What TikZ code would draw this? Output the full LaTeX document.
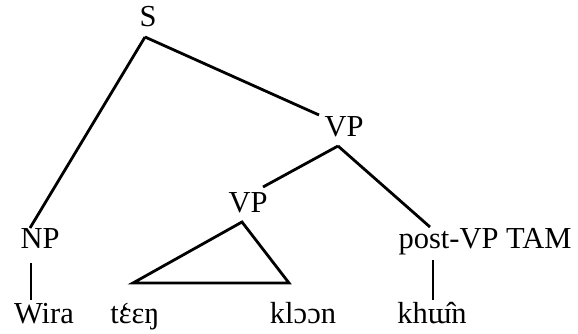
\documentclass[tikz,border=0pt]{standalone}
\usepackage{fontspec}
\setmainfont{Liberation Serif}
\newcommand{\gravee}{\ooalign{ɛ\cr\hfil\char"60\hfil\cr}}
\begin{document}
\begin{tikzpicture}[x=1pt,y=-1pt,line width=2.8pt,
  lbl/.style={anchor=base,inner sep=0pt,font=\fontsize{30.5}{36}\selectfont}]
\useasboundingbox (0,0) rectangle (578,334);
% 节点
\node[lbl] (S) at (148,27) {S};
\node[lbl] (VPa) at (344,137) {VP};
\node[lbl] (VPb) at (248,212) {VP};
\node[lbl] (NP) at (40,248) {NP};
\node[lbl] (TAM) at (485,248) {post-VP TAM};
% 词
\node[lbl] (wira) at (44,323) {Wira};
\node[lbl] (teen) at (135,323) {t\gravee ɛŋ};
\node[lbl] (kloon) at (303,323) {klɔɔn};
\node[lbl] (khun) at (432,323) {khɯ̂n};
% 连线
\draw ([shift={(-3,10)}]S.base) -- ([shift={(-10,-20)}]NP.base);
\draw ([shift={(-3,10)}]S.base) -- ([shift={(-25,-22)}]VPa.base);
\draw ([shift={(-6,9)}]VPa.base) -- ([shift={(15,-25)}]VPb.base);
\draw ([shift={(-6,9)}]VPa.base) -- ([shift={(-55,-21)}]TAM.base);
\draw ([shift={(-9,15)}]NP.base) -- ([shift={(-13,-23)}]wira.base);
\draw ([shift={(-52,12)}]TAM.base) -- ([shift={(1,-23)}]khun.base);
% 三角形
\draw ([shift={(-6,10)}]VPb.base) -- ([shift={(-2,-40)}]teen.base)
  -- ([shift={(-14,-40)}]kloon.base) -- cycle;
\end{tikzpicture}
\end{document}
